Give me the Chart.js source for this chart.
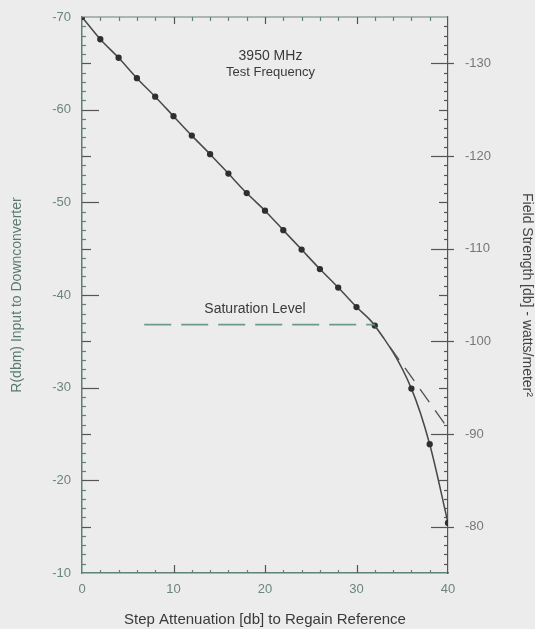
<!DOCTYPE html>
<html>
<head>
<meta charset="utf-8">
<script src="https://cdn.jsdelivr.net/npm/chart.js@4"></script>
<style>
  html, body { margin: 0; padding: 0; background: #ececec; }
  #wrap { width: 535px; height: 629px; }
</style>
</head>
<body>
<div id="wrap"><canvas id="chart" width="535" height="629"></canvas></div>
<script>

// Measured curve: step attenuation (db) vs R (dbm)
var attenuation = [0, 2, 4, 6, 8, 10, 12, 14, 16, 18, 20, 22, 24, 26, 28, 30, 32, 36, 38, 40];
var inputLevel = [-70, -67.6, -65.6, -63.4, -61.4, -59.3, -57.2, -55.2, -53.1, -51.0, -49.1,
  -47.0, -44.9, -42.8, -40.8, -38.7, -36.7, -29.9, -23.9, -15.4];

// Straight-line extension past saturation
var extensionX = [32, 40];
var extensionY = [-36.7, -25.6];

// Saturation level line
var saturationX = [6.8, 32];
var saturationY = [-36.8, -36.8];

// Tick labels
var xTicks = [0, 10, 20, 30, 40];
var leftTicks = [-70, -60, -50, -40, -30, -20, -10];
var rightTicks = [-130, -120, -110, -100, -90, -80];

function toPoints(xs, ys) {
  var pts = [];
  for (var i = 0; i < xs.length; i++) {
    pts.push({ x: xs[i], y: ys[i] });
  }
  return pts;
}

function setTicks(list) {
  return function (scale) {
    scale.ticks = list.map(function (v) { return { value: v }; });
  };
}

// fixed axis box size, no extra label overflow padding
function fixSize(w, h) {
  return function (s) {
    if (w) s.width = w;
    if (h) s.height = h;
    s.paddingTop = 0;
    s.paddingBottom = 0;
    s.paddingLeft = 0;
    s.paddingRight = 0;
  };
}

var axisColor = '#5f8276';
var labelFont = { family: 'Liberation Sans', size: 13 };
var titleFont = { family: 'Liberation Sans', size: 14, lineHeight: 1.2 };

// Draws the minor/major tick marks and the top border
var tickMarks = {
  id: 'tickMarks',
  afterDraw: function (chart) {
    var ctx = chart.ctx;
    var x = chart.scales.x, y = chart.scales.y, y2 = chart.scales.y2;
    var top = y.top, bottom = y.bottom, left = x.left, right = x.right;
    ctx.save();
    ctx.lineWidth = 1.2;

    // top border
    ctx.strokeStyle = '#6f7f79';
    ctx.beginPath();
    ctx.moveTo(left, top);
    ctx.lineTo(right, top);
    ctx.stroke();

    // x ticks, bottom and top
    for (var v = 2; v < 40; v += 2) {
      var px = Math.round(x.getPixelForValue(v)) + 0.5;
      var big = v % 10 === 0;
      ctx.strokeStyle = big ? '#555' : axisColor;
      ctx.beginPath();
      ctx.moveTo(px, bottom);
      ctx.lineTo(px, bottom - (big ? 8 : 3));
      ctx.moveTo(px, top);
      ctx.lineTo(px, top + (big ? 7 : 4));
      ctx.stroke();
    }

    // left y ticks
    for (var a = -69; a < -10; a++) {
      var py = Math.round(y.getPixelForValue(a)) + 0.5;
      var len = a % 10 === 0 ? 17 : (a % 5 === 0 ? 9 : 4);
      ctx.strokeStyle = len > 4 ? '#555' : axisColor;
      ctx.beginPath();
      ctx.moveTo(left, py);
      ctx.lineTo(left + len, py);
      ctx.stroke();
    }

    // right y ticks
    for (var b = -134; b < -75; b++) {
      var qy = Math.round(y2.getPixelForValue(b)) + 0.5;
      var major = b % 10 === 0;
      var l2 = major ? 17 : (b % 5 === 0 ? 9 : 4);
      ctx.strokeStyle = '#555';
      ctx.beginPath();
      ctx.moveTo(right - l2, qy);
      ctx.lineTo(right + (major ? 6 : 0), qy);
      ctx.stroke();
    }
    ctx.restore();
  }
};

// Text notes placed in data coordinates
var notes = {
  id: 'notes',
  afterDatasetsDraw: function (chart) {
    var ctx = chart.ctx;
    var x = chart.scales.x, y = chart.scales.y;
    ctx.save();
    ctx.fillStyle = '#3a3a3a';
    ctx.textAlign = 'center';
    ctx.textBaseline = 'middle';
    ctx.font = '14px "Liberation Sans"';
    ctx.fillText('3950 MHz', x.getPixelForValue(20.6), y.getPixelForValue(-65.8));
    ctx.font = '13px "Liberation Sans"';
    ctx.fillText('Test Frequency', x.getPixelForValue(20.6), y.getPixelForValue(-64.0));
    ctx.font = '14px "Liberation Sans"';
    ctx.fillText('Saturation Level', x.getPixelForValue(18.9), y.getPixelForValue(-38.5));
    ctx.restore();
  }
};

var chart = new Chart(document.getElementById('chart'), {
  type: 'scatter',
  data: {
    datasets: [
      {
        data: toPoints(saturationX, saturationY),
        showLine: true,
        borderColor: '#6b9a88',
        borderWidth: 1.6,
        borderDash: [27, 10],
        pointRadius: 0
      },
      {
        data: toPoints(extensionX, extensionY),
        showLine: true,
        borderColor: '#505050',
        borderWidth: 1.3,
        borderDash: [16, 10],
        pointRadius: 0
      },
      {
        data: toPoints(attenuation, inputLevel),
        showLine: true,
        cubicInterpolationMode: 'monotone',
        borderColor: '#484848',
        borderWidth: 1.5,
        pointRadius: 2.4,
        pointBackgroundColor: '#2f2f2f',
        pointBorderColor: '#2f2f2f'
      }
    ]
  },
  options: {
    responsive: false,
    animation: false,
    layout: { padding: { top: 17, bottom: 0, left: 0, right: 0 } },
    plugins: {
      legend: { display: false },
      tooltip: { enabled: false }
    },
    scales: {
      x: {
        type: 'linear',
        min: 0,
        max: 40,
        afterBuildTicks: setTicks(xTicks),
        afterFit: fixSize(0, 56),
        grid: { display: false, drawTicks: false },
        border: { display: true, color: axisColor, width: 1.5 },
        ticks: { color: '#6b857c', font: labelFont, padding: 9 },
        title: {
          display: true,
          text: 'Step Attenuation [db] to Regain Reference',
          color: '#3a3a3a',
          font: { family: 'Liberation Sans', size: 15, lineHeight: 1.2 },
          padding: { top: 0, bottom: 0 }
        }
      },
      y: {
        type: 'linear',
        position: 'left',
        reverse: true,
        min: -70,
        max: -10,
        afterBuildTicks: setTicks(leftTicks),
        afterFit: fixSize(82, 0),
        grid: { display: false, drawTicks: false },
        border: { display: true, color: axisColor, width: 1.5 },
        ticks: { color: '#6b857c', font: labelFont, padding: 11 },
        title: {
          display: true,
          text: 'R(dbm) Input to Downconverter',
          color: '#5a7a70',
          font: titleFont,
          padding: { top: 9, bottom: 0 }
        }
      },
      y2: {
        type: 'linear',
        position: 'right',
        reverse: true,
        min: -135,
        max: -75,
        afterBuildTicks: setTicks(rightTicks),
        afterFit: fixSize(87, 0),
        grid: { display: false, drawTicks: false },
        border: { display: true, color: '#555', width: 1.2 },
        ticks: { color: '#777', font: labelFont, padding: 17 },
        title: {
          display: true,
          text: 'Field Strength [db] - watts/meter²',
          color: '#444',
          font: titleFont,
          padding: { top: 0, bottom: 0 }
        }
      }
    }
  },
  plugins: [tickMarks, notes]
});

</script>
</body>
</html>
